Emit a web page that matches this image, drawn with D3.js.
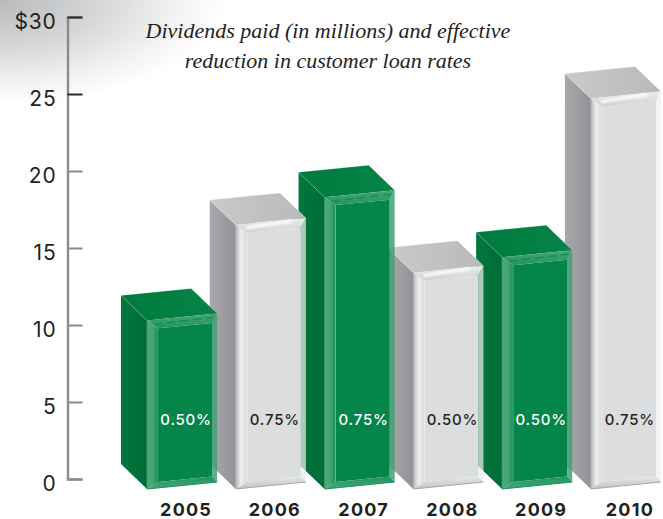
<!DOCTYPE html>
<html>
<head>
<meta charset="utf-8">
<style>
html,body{margin:0;padding:0;background:#fff;}
svg{display:block;}
</style>
<script src="https://cdn.jsdelivr.net/npm/d3@7/dist/d3.min.js"></script>
</head>
<body>
<svg id="chart" width="663" height="519"></svg>
<script>
// Dividends per year, in millions of dollars
const years = ["2005", "2006", "2007", "2008", "2009", "2010"];
const dividends = [10.3, 16.5, 18.3, 13.4, 14.4, 24.7];
const rateCuts = ["0.50%", "0.75%", "0.75%", "0.50%", "0.50%", "0.75%"];
const axisTicks = [0, 5, 10, 15, 20, 25, 30];
const titleLines = ["Dividends paid (in millions) and effective", "reduction in customer loan rates"];

const width = 663, height = 519;
const sansFont = "Inter, 'Open Sans', sans-serif";
const ink = "#231f20";

const svg = d3.select("#chart");
const defs = svg.append("defs");

const y = d3.scaleLinear().domain([0, 30]).range([479, 17]);
const x = d3.scaleBand().domain(years).range([147, 661]).paddingInner(0.21);

// Extruded-box projection constants
const depth = { x: -26, y: -25 };
const slant = 7;
const baseDrop = 10;
const inset = { left: 11, right: 5, top: 9, bottom: 6 };

const palette = {
  green: {
    face: "#04854a", side: ["#00783c", "#006a36"], top: ["#007a3e", "#058446"],
    bevelLeft: ["#4ea879", "#48a476", "#1a9059"], bevelTop: ["#4aa67a", "#1f9460"],
    bevelRight: "#3fa173", bevelBottom: ["#1f9361", "#4aa67a"], edge: "rgba(255,255,255,0.24)",
    bevelRightOpacity: 0.85, labelFill: "#ffffff"
  },
  gray: {
    face: "#dcdddf", side: ["#a9a9ad", "#929297"], top: ["#c9cacc", "#b8b9bb"],
    bevelLeft: ["#b9babd", "#eeeff0", "#d6d7d9"], bevelTop: ["#eeeeef", "#cfd0d2"],
    bevelRight: "#eceded", bevelBottom: ["#e4e5e6", "#c2c3c5"], edge: "rgba(255,255,255,0.35)",
    bevelRightOpacity: 0.72, labelFill: ink
  }
};

function linearGradient(id, stops, x2, y2) {
  const g = defs.append("linearGradient").attr("id", id)
    .attr("x1", 0).attr("y1", 0).attr("x2", x2).attr("y2", y2);
  stops.forEach((c, i) => g.append("stop")
    .attr("offset", i / (stops.length - 1)).attr("stop-color", c));
}

Object.entries(palette).forEach(([name, p]) => {
  linearGradient(name + "-side", p.side, 1, 0);
  linearGradient(name + "-top", p.top, 1, 0);
  linearGradient(name + "-bevel-left", p.bevelLeft, 1, 0);
  linearGradient(name + "-bevel-top", p.bevelTop, 0, 1);
  linearGradient(name + "-bevel-bottom", p.bevelBottom, 0, 1);
});

// Soft glow for the highlight on the gray bars
defs.append("filter").attr("id", "soft-glow")
  .attr("x", "-10%").attr("y", "-200%").attr("width", "120%").attr("height", "500%")
  .append("feGaussianBlur").attr("stdDeviation", 1.3);

// Soft gray wash in the upper left corner of the page
const wash = defs.append("radialGradient").attr("id", "corner-wash")
  .attr("gradientUnits", "userSpaceOnUse").attr("cx", 0).attr("cy", 0).attr("r", 1)
  .attr("gradientTransform", "scale(225,105)");
[[0, "#b9babb"], [0.45, "#d6d7d8"], [0.8, "#f3f3f3"], [1, "#ffffff"]].forEach(([o, c]) =>
  wash.append("stop").attr("offset", o).attr("stop-color", c));
svg.append("rect").attr("width", 240).attr("height", 120).attr("fill", "url(#corner-wash)");

// Value axis with ticks pointing into the plot
const axis = d3.axisLeft(y).tickValues(axisTicks).tickSize(-15).tickPadding(11)
  .tickFormat(d => d === 30 ? "$30" : d);
const axisG = svg.append("g").attr("transform", "translate(67.5,0)").call(axis);
axisG.select(".domain").attr("stroke", "#8b8b8f").attr("stroke-width", 2.4);
axisG.selectAll(".tick line")
  .attr("stroke", d => d >= 25 ? "#2b2b2d" : "#8b8b8f").attr("stroke-width", 2);
axisG.selectAll(".tick text")
  .attr("dy", "0.55em").attr("y", 0)
  .attr("fill", ink).attr("font-family", sansFont).attr("font-size", 21)
  .attr("font-weight", 400).attr("letter-spacing", 0.8);

// One extruded bar, drawn back-to-front so that left bars overlap right bars
function drawBar(g, d, i) {
  const kind = i % 2 === 0 ? "green" : "gray";
  const p = palette[kind];
  const x0 = x(d.year), x1 = x0 + x.bandwidth();
  const top = y(d.value), base = y(0) + baseDrop;

  const fl = [x0, top], fr = [x1, top - slant];
  const bl = [x0, base], br = [x1, base - slant];
  const back = q => [q[0] + depth.x, q[1] + depth.y];
  const riseAt = dx => slant * dx / x.bandwidth();
  const il = [x0 + inset.left, top + inset.top - riseAt(inset.left)];
  const ir = [x1 - inset.right, top - slant + inset.top + riseAt(inset.right)];
  const ibl = [x0 + inset.left, base - inset.bottom - riseAt(inset.left)];
  const ibr = [x1 - inset.right, base - slant - inset.bottom + riseAt(inset.right)];

  const poly = (pts, fill, extra) => {
    const s = g.append("path").attr("d", d3.line()(pts) + "Z").attr("fill", fill);
    if (extra) Object.entries(extra).forEach(([k, v]) => s.attr(k, v));
    return s;
  };

  // Side and top of the box
  poly([back(fl), fl, bl, back(bl)], `url(#${kind}-side)`);
  poly([back(fl), back(fr), fr, fl], `url(#${kind}-top)`);
  g.append("path").attr("d", d3.line()([back(fl), fl]))
    .attr("stroke", p.edge).attr("stroke-width", 0.8).attr("fill", "none");
  g.append("path").attr("d", d3.line()([back(fl), back(fr), fr]))
    .attr("stroke", p.edge).attr("stroke-width", 0.8).attr("fill", "none");

  // Front face with its four bevels
  poly([il, ir, ibr, ibl], p.face);
  poly([fr, br, ibr, ir], p.bevelRight, { opacity: p.bevelRightOpacity });
  poly([fl, il, ibl, bl], `url(#${kind}-bevel-left)`);
  poly([fl, fr, ir, il], `url(#${kind}-bevel-top)`);
  poly([bl, ibl, ibr, br], `url(#${kind}-bevel-bottom)`);

  // Highlight running along the top bevel
  if (kind === "green") {
    g.append("path").attr("d", d3.line()([[x0 + 7, top + 4], [x1 - 4, top - slant + 4]]))
      .attr("stroke", "#16905a").attr("stroke-width", 1.6)
      .attr("stroke-dasharray", "9 4").attr("fill", "none");
  } else {
    g.append("path").attr("d", d3.line()([[x0 + 10, top + 3], [x1 - 14, top - slant + 3]]))
      .attr("stroke", "#ffffff").attr("stroke-width", 3).attr("stroke-opacity", 0.9)
      .attr("fill", "none").attr("filter", "url(#soft-glow)");
  }

  // Thin rim lines on the front face
  g.append("path").attr("d", d3.line()([fl, bl]))
    .attr("stroke", kind === "green" ? "#2f9b68" : "#a9aaad").attr("stroke-width", 1).attr("fill", "none");
  g.append("path").attr("d", d3.line()([il, ibl]))
    .attr("stroke", kind === "green" ? "rgba(255,255,255,0.18)" : "rgba(255,255,255,0.5)").attr("stroke-width", 0.8).attr("fill", "none");
  g.append("path").attr("d", d3.line()([bl, br]))
    .attr("stroke", kind === "green" ? "#1c8d5a" : "#a6a7aa").attr("stroke-width", 1).attr("fill", "none");
}

const rows = years.map((year, i) => ({ year, value: dividends[i], rate: rateCuts[i], i }));
const barsG = svg.append("g");
barsG.selectAll("g.bar")
  .data(rows.slice().reverse())
  .join("g").attr("class", "bar")
  .each(function (d) { drawBar(d3.select(this), d, d.i); });

// Rate reduction printed on each bar
svg.append("g").selectAll("text").data(rows).join("text")
  .attr("x", d => x(d.year) + x.bandwidth() / 2 + 4)
  .attr("y", 425)
  .attr("text-anchor", "middle")
  .attr("font-family", sansFont).attr("font-size", 15).attr("font-weight", 500)
  .attr("letter-spacing", 0.8)
  .attr("fill", d => palette[d.i % 2 === 0 ? "green" : "gray"].labelFill)
  .text(d => d.rate);

// Year labels under the bars
svg.append("g").selectAll("text").data(rows).join("text")
  .attr("x", d => x(d.year) + x.bandwidth() / 2 + 4)
  .attr("y", 516)
  .attr("text-anchor", "middle")
  .attr("font-family", sansFont).attr("font-size", 18).attr("font-weight", 700)
  .attr("letter-spacing", 1.2)
  .attr("fill", ink)
  .text(d => d.year);

// Chart heading
svg.append("g").selectAll("text").data(titleLines).join("text")
  .attr("x", 328)
  .attr("y", (d, i) => 38 + i * 30)
  .attr("text-anchor", "middle")
  .attr("font-family", "'Liberation Serif', serif").attr("font-style", "italic")
  .attr("font-size", 22)
  .attr("fill", ink)
  .text(d => d);
</script>
</body>
</html>
